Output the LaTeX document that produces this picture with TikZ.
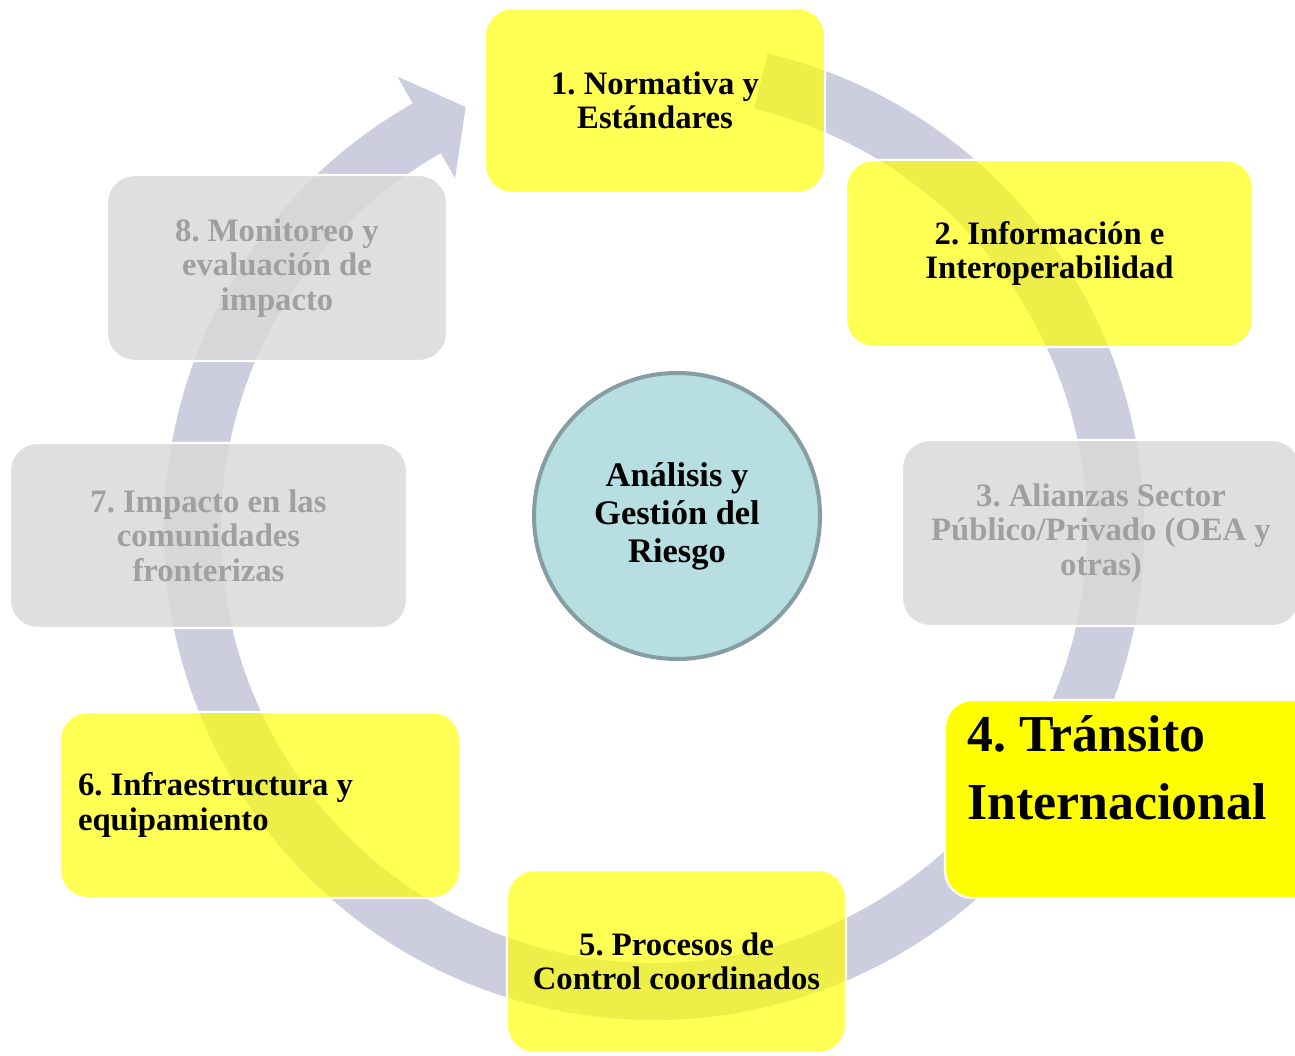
\documentclass[tikz,border=0pt]{standalone}
\usepackage{fontspec}
\setmainfont{Liberation Serif}
\usepackage{tikz}
\definecolor{anillo}{RGB}{205,205,224}
\definecolor{amarillo}{RGB}{255,255,0}
\definecolor{gris}{RGB}{217,217,217}
\definecolor{grisletra}{RGB}{160,160,160}
\definecolor{celeste}{RGB}{183,222,225}
\definecolor{bordecel}{RGB}{134,158,163}

\tikzset{
  caja/.style={rounded corners=0.55cm, draw=white, line width=1.2pt, text opacity=1,
    font=\fontsize{18.6}{19.6}\selectfont\bfseries, align=center, inner sep=0pt},
  cajaam/.style={caja, fill=amarillo, fill opacity=0.67},
  cajagr/.style={caja, fill=gris, fill opacity=0.85, text=grisletra},
}
\frenchspacing

\begin{document}
\begin{tikzpicture}
	\clip (0,0) rectangle (25.9,21.1);
	
	% anillo con flecha
	\begin{scope}[shift={(13.08,10.5)}]
		\fill[anillo] (76.6:9.8) arc[start angle=76.6, end angle=-240.5, radius=9.8]
			-- (-240.5:10.42) -- (-246:9.26) -- (-240.5:8.08) -- (-240.5:8.66)
			arc[start angle=-240.5, end angle=76.6, radius=8.66] -- cycle;
	\end{scope}
	
	\node[cajaam, minimum width=6.8cm, minimum height=3.7cm] (n1) at (13.1,19.09) {1. Normativa y\\Estándares};
	\node[cajaam, minimum width=8.14cm, minimum height=3.74cm] (n2) at (20.99,16.03) {2. Información e\\Interoperabilidad};
	\node[cajagr, minimum width=7.96cm, minimum height=3.72cm] (n3) at (22.02,10.44) {3. Alianzas Sector\\Público/Privado (OEA y\\otras)};
	\node[caja, fill=amarillo, minimum width=8cm, minimum height=3.96cm] (n4) at (22.9,5.12) {};
	\node[anchor=north west, inner sep=0pt, align=flush left, font=\fontsize{29.5}{39}\selectfont\bfseries] (n4t)
		at ([shift={(0.46,-0.32)}]n4.north west) {4. Tránsito\\Internacional};
	\node[cajaam, minimum width=6.78cm, minimum height=3.66cm] (n5) at (13.53,1.87) {5. Procesos de\\Control coordinados};
	\node[cajaam, minimum width=8cm, minimum height=3.72cm, text width=7.28cm, align=flush left] (n6) at (5.2,5.0) {6. Infraestructura y\\equipamiento};
	\node[cajagr, minimum width=7.94cm, minimum height=3.7cm] (n7) at (4.17,10.39) {7. Impacto en las\\comunidades\\fronterizas};
	\node[cajagr, minimum width=6.8cm, minimum height=3.72cm] (n8) at (5.54,15.74) {8. Monitoreo y\\evaluación de\\impacto};
	
	\node[circle, fill=celeste, draw=bordecel, line width=2.3pt, minimum size=5.72cm, align=center,
		font=\fontsize{19.6}{21.6}\selectfont\bfseries] (centro) at (13.54,10.78) {Análisis y\\Gestión del\\Riesgo};
\end{tikzpicture}
\end{document}
